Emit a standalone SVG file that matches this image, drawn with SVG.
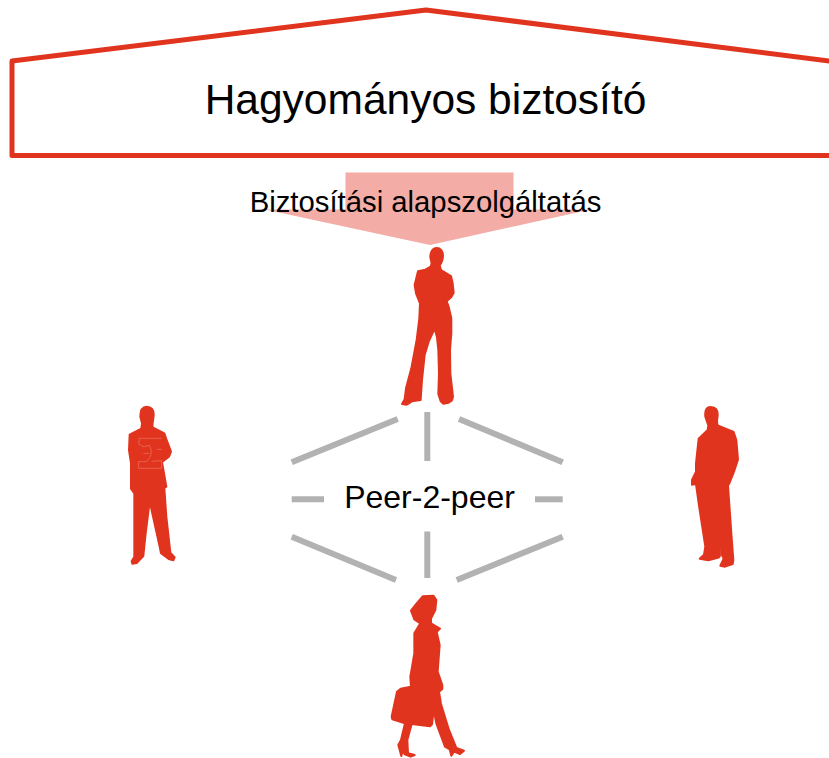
<svg xmlns="http://www.w3.org/2000/svg" width="829" height="758" viewBox="0 0 829 758">
<style>
.fig{fill:#e1341e;stroke:#e1341e;stroke-width:6;stroke-linejoin:round}
.lnk{stroke:#b2b2b2;stroke-width:6;fill:none}
.t{font-family:"Liberation Sans",Arial,sans-serif;fill:#000;text-anchor:middle}
</style>
<rect width="829" height="758" fill="#fff"/>
<g id="insurer">
<path d="M12 61L426 10L835 61.700V155.500H12Z" fill="#fff" stroke="#e1341e" stroke-width="5" stroke-linejoin="round"/>
<text class="t" x="425.500" y="113.500" font-size="42.500">Hagyományos biztosító</text>
</g>
<g id="service">
<path d="M345.500 172.500H513.500V209.500H591L430 245L265 209.500H345.500Z" fill="#f4aca6"/>
<text class="t" x="425.500" y="212" font-size="29.300">Biztosítási alapszolgáltatás</text>
</g>
<g id="connectors" class="lnk">
<path d="M291.700 462.300L397.700 419"/>
<path d="M427.300 412V461"/>
<path d="M459 419L562.700 462.300"/>
<path d="M291.700 499.300H324"/>
<path d="M535 499.300H562.700"/>
<path d="M291.700 536.700L396 580"/>
<path d="M427.300 531.500V578"/>
<path d="M456.700 580L562.700 536.700"/>
</g>
<g id="peer-label"><text class="t" x="429.500" y="508" font-size="32">Peer-2-peer</text></g>
<g id="person-top" transform="translate(380 240) scale(.3333)">
<path class="fig" d="M170 24C182 24 189 33 189 46C189 60 184 70 179 76L183 90L213 108L218 130L221 158L214 171L200 184L206 200L214 235L214 280L210 330L211 400L219 470L216 481L206 488L190 491L182 484L175 462L177 400L175 330L171 292L164 266L146 305L134 345L126 420L122 480L96 484L80 494L66 492L74 478L78 445L94 385L110 300L118 235L120 190L108 160L104 135L114 94L136 89L152 80L155 70L151 52C151 36 158 24 170 24Z"/>
</g>
<g id="person-left" transform="translate(110 400) scale(.3333)">
<path class="fig" d="M110 20C124 20 132 30 131 46C130 60 126 70 128 82L163 100L170 120L183 155L177 170L156 186L169 260L163 264L169 350L181 458L194 472L190 481L176 477L153 460L149 440L119 304L107 400L100 468L80 489L67 491L65 484L73 470L73 280L63 266L63 190L57 150L59 104L94 86L96 70L91 50C91 30 98 20 110 20Z"/>
<g fill="none" stroke="#f0a090" stroke-width="1.500" opacity=".85"><path d="M155 115H88L86 132L100 140L118 136L124 150L122 168L110 185H86V205H155V182L125 184"/><path d="M100 160H118M140 148H155"/></g>
</g>
<g id="person-right" transform="translate(675 400) scale(.3333)">
<path class="fig" d="M107 21C122 21 129 30 128 46C127 58 124 66 128 76L176 96L184 120L189 178L177 215L163 250L159 256L169 400L175 480L173 492L150 500L136 497L146 476L141 465L138 440L127 354L132 440L135 468L131 473L100 481L74 476L87 464L91 440L71 310L63 252L51 254L51 240L63 215L63 190L71 116L98 90L100 76L91 50C89 32 94 21 107 21Z"/>
</g>
<g id="person-bottom" transform="translate(380 590) scale(.3333)">
<path class="fig" d="M128 19L160 17L169 30L166 60L153 86L153 100L180 116L170 126L179 165L173 245L187 285L187 297L177 305L183 342L207 420L229 474L252 482L240 492L222 485L214 497L209 478L195 470L169 400L161 360L156 403L150 409L95 402L82 450L84 490L104 495L92 500L74 493L68 482L64 498L55 465L63 450L75 400L37 388L35 380L51 305L62 296L93 290L91 260L103 190L103 130L121 100L103 88L93 62L107 44Z"/>
</g>
</svg>
